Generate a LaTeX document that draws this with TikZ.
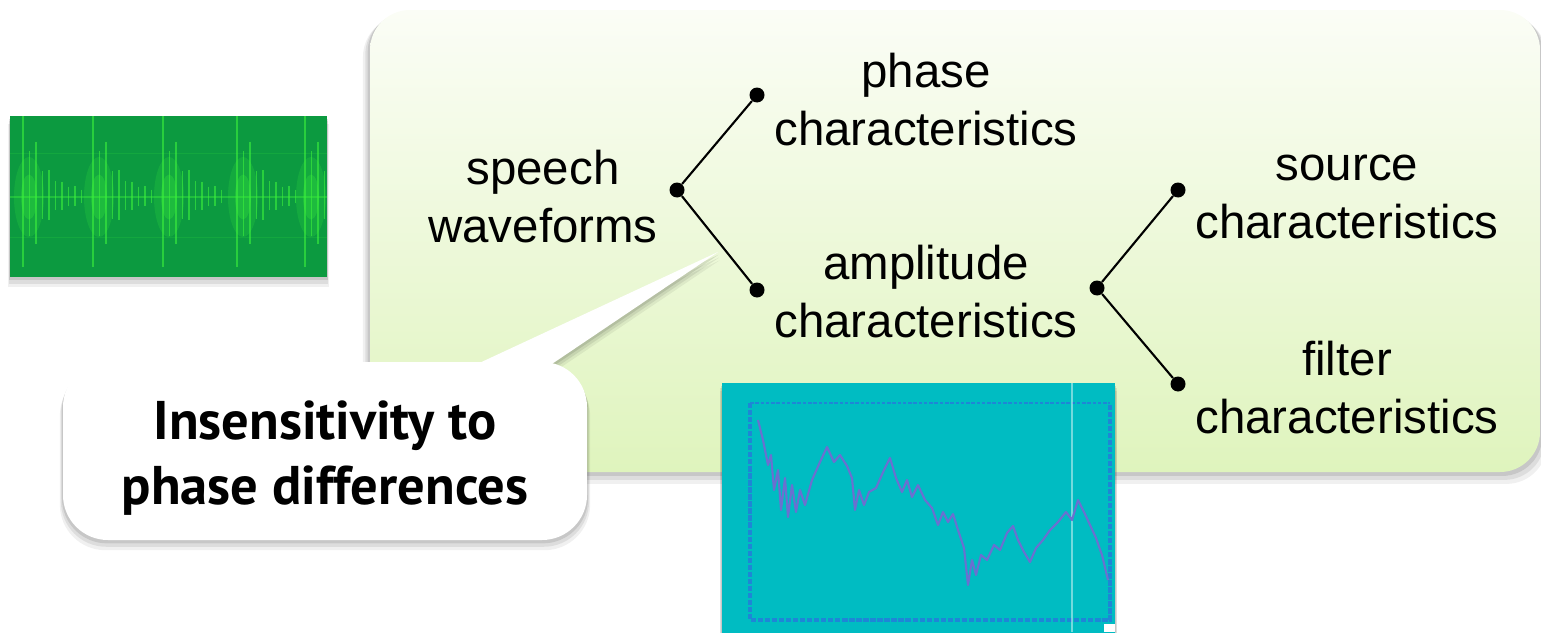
\documentclass[tikz,border=0pt]{standalone}
\usepackage{fontspec}
\setmainfont{Liberation Sans}
\newfontfamily\calloutfont{PT Sans}
\usepackage{tikz}
\usetikzlibrary{shadows, positioning}

\definecolor{panelTop}{HTML}{FBFDF6}
\definecolor{panelBot}{HTML}{DFF4BD}
\definecolor{waveBg}{HTML}{0C9A40}
\definecolor{waveFg}{HTML}{3CF23C}
\definecolor{specBg}{HTML}{00BCC2}
\definecolor{specAxis}{HTML}{1E86D6}
\definecolor{specLine}{HTML}{6A70D0}

\begin{document}
\begin{tikzpicture}[x=0.02cm, y=-0.02cm,
    txt/.style={align=center, inner sep=0pt, font=\fontsize{27}{33}\selectfont},
    callouttxt/.style={align=center, inner sep=0pt, font=\calloutfont\bfseries\fontsize{31}{37}\selectfont},
    dot/.style={circle, fill=black, inner sep=0pt, minimum size=0.3cm},
    branch/.style={line width=1.2pt},
    soft/.style={
      drop shadow={shadow xshift=0pt, shadow yshift=-0.06cm, shadow scale=1.004, opacity=0.10, fill=black},
      drop shadow={shadow xshift=0pt, shadow yshift=-0.12cm, shadow scale=1.008, opacity=0.08, fill=black},
      drop shadow={shadow xshift=0pt, shadow yshift=-0.18cm, shadow scale=1.012, opacity=0.06, fill=black}}
]
\useasboundingbox (0,0) rectangle (1541,632);

% panel
\shade[soft, top color=panelTop, bottom color=panelBot, rounded corners=0.8cm] (370,10) rectangle (1540,472);

% waveform picture
\path[soft, fill=waveBg] (10,116) rectangle (327,277);
\begin{scope}
\clip (10,116) rectangle (327,277);
\foreach \y in {153,237} \draw[waveFg, opacity=0.15] (10,\y) -- (327,\y);
\draw[waveFg, opacity=0.4, line width=0.8pt] (10,197) -- (327,197);
\foreach \b in {23,93,163,237,305}{
  \fill[waveFg, opacity=0.18] (\b+6,197) ellipse (0.3cm and 0.8cm);
  \fill[waveFg, opacity=0.25] (\b+6,197) ellipse (0.16cm and 0.45cm);
  \foreach \k/\s in {0/1,1/0.7,2/1.1,3/0.6,4/0.8,5/0.5,6/0.6,7/0.4,8/0.5,9/0.3}{
    \pgfmathsetmacro\amp{(72*exp(-\k/3.5)+6)*\s+4}
    \draw[waveFg, line width=1pt, opacity=0.6] (\b+\k*6.5,197-\amp) -- (\b+\k*6.5,197+0.85*\amp);
  }
}
\end{scope}

% spectrum picture
\path[soft, fill=specBg] (722,383) rectangle (1115,640);
\draw[specAxis, line width=2pt, dash pattern=on 3pt off 1pt] (750,403) -- (750,620) -- (1110,620) -- (1110,403);
\draw[specAxis, line width=1pt, dash pattern=on 2pt off 1pt] (750,403) -- (1110,403);
\draw[white, opacity=0.45, line width=1.5pt] (1072,383) -- (1072,632);
\draw[specLine, line width=1.2pt, line join=round] plot coordinates {
  (758,420) (763,440) (768,465) (771,455) (774,490) (778,470) (781,510) (785,478) (788,517)
  (792,485) (796,512) (800,490) (805,505) (812,480) (820,462) (827,447) (834,462) (840,455)
  (847,466) (852,478) (855,510) (859,490) (864,505) (869,492) (876,488) (884,470) (890,458)
  (896,478) (902,492) (907,480) (912,497) (918,485) (925,500) (932,508) (938,525) (943,512)
  (948,522) (953,514) (958,530) (964,548) (968,585) (972,560) (976,575) (981,555) (987,560)
  (994,545) (1000,550) (1007,533) (1013,526) (1018,540) (1024,552) (1030,562) (1036,548)
  (1043,540) (1050,530) (1058,522) (1066,512) (1072,520) (1078,500) (1084,512) (1090,525)
  (1096,538) (1102,555) (1108,580)};
\fill[white] (1104,624) rectangle (1115,632);

% callout
\path[soft, fill=white] (460,372) -- (718,252) -- (540,372) -- cycle;
\path[soft, fill=white, rounded corners=0.9cm] (63,362) rectangle (587,540);
\node[callouttxt] (insens) at (325,458) {Insensitivity to\\phase differences};

% tree
\node[txt] (speech) at (543,197) {speech\\waveforms};
\node[txt] (phase) at (926,100) {phase\\characteristics};
\node[txt] (ampl) at (926,292) {amplitude\\characteristics};
\node[txt] (source) at (1347,197) {source\\characteristics};
\node[txt] (filter) at (1347,388) {filter\\characteristics};

\node[dot] (root) at (677,190) {};
\node[dot] (phdot) at (757,95) {};
\node[dot] (amdot) at (757,290) {};
\node[dot] (split) at (1097,288) {};
\node[dot] (srcdot) at (1178,190) {};
\node[dot] (fltdot) at (1178,384) {};

\draw[branch] (root) -- (phdot);
\draw[branch] (root) -- (amdot);
\draw[branch] (split) -- (srcdot);
\draw[branch] (split) -- (fltdot);
\end{tikzpicture}
\end{document}
